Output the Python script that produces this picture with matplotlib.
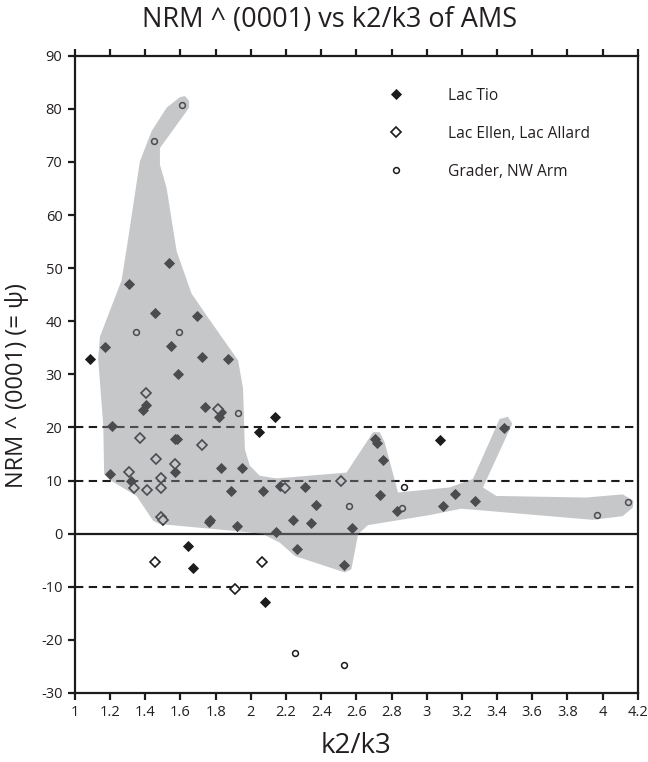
import numpy as np
import matplotlib
matplotlib.use("Agg")
import matplotlib.pyplot as plt
from matplotlib.patches import Polygon

plt.rcParams['font.family'] = ['Open Sans', 'DejaVu Sans']
plt.rcParams['axes.unicode_minus'] = False

# Lac Tio samples (filled diamonds)
tio_x = [1.085, 2.047, 2.14, 3.078, 1.644, 1.67, 2.08,
         1.536, 1.309, 1.455, 1.693, 1.169, 1.545, 1.72, 1.873, 1.585,
         1.403, 1.386, 1.737, 1.831, 1.82, 1.208, 1.568, 1.58, 1.2, 1.318,
         1.57, 1.83, 1.947, 1.89, 1.767, 1.76, 1.922, 2.07, 2.165, 2.307,
         2.373, 2.24, 2.34, 2.576, 2.146, 2.265, 2.532, 2.708, 2.716, 2.75,
         2.733, 2.834, 3.4375, 3.161, 3.093, 3.273]
tio_y = [32.9, 19.2, 22.0, 17.6, -2.3, -6.4, -12.85,
         51.0, 47.1, 41.5, 40.9, 35.1, 35.4, 33.2, 32.9, 30.1,
         24.3, 23.3, 23.9, 23.0, 21.9, 20.3, 17.8, 17.8, 11.2, 9.9,
         11.6, 12.3, 12.3, 8.1, 2.6, 2.2, 1.4, 8.05, 8.9, 8.7,
         5.35, 2.6, 2.0, 1.06, 0.25, -2.8, -5.9, 17.8, 17.0, 13.9,
         7.2, 4.3, 19.8, 7.5, 5.3, 6.1]

# Lac Ellen / Lac Allard samples (open diamonds)
ellen_x = [1.403, 1.8125, 1.367, 1.72, 1.46, 1.57, 1.307, 1.333, 1.411,
           1.49, 1.49, 1.49, 1.50, 2.197, 2.515, 1.453, 2.064, 1.911]
ellen_y = [26.5, 23.5, 18.1, 16.6, 14.0, 13.1, 11.6, 8.6, 8.3,
           10.4, 8.6, 3.2, 2.5, 8.6, 10.0, -5.3, -5.3, -10.5]

# Grader / NW Arm samples (open circles)
grader_x = [1.608, 1.45, 1.348, 1.59, 1.926, 2.56, 2.871, 2.858, 3.97,
            4.146, 2.254, 2.53]
grader_y = [80.8, 74.0, 38.05, 38.05, 22.7, 5.2, 8.8, 4.8, 3.46,
            5.9, -22.4, -24.7]

# Outline of the shaded data field
field_x = [1.199, 1.166, 1.161, 1.132, 1.142, 1.265, 1.294, 1.369, 1.436,
           1.521, 1.597, 1.625, 1.649, 1.649, 1.483, 1.483, 1.521, 1.578,
           1.663, 1.748, 1.928, 1.956, 1.966, 1.994, 2.051, 2.146, 2.544,
           2.695, 2.733, 2.761, 2.837, 3.131, 3.263, 3.415, 3.462, 3.487,
           3.32, 3.396, 3.907, 4.115, 4.176, 4.172, 4.115, 3.945, 3.197,
           3.017, 2.666, 2.61, 2.572, 2.534, 2.25, 2.165, 2.07, 1.976,
           1.483, 1.445, 1.35]
field_y = [10.1, 11.2, 20.3, 32.9, 37.1, 47.7, 53.7, 70.1, 75.8,
           80.2, 82.2, 82.4, 81.5, 80.2, 72.6, 69.5, 65.1, 53.2,
           45.2, 41.1, 32.6, 27.3, 15.9, 12.8, 10.9, 10.4, 11.5,
           19.1, 19.1, 17.2, 7.75, 8.7, 10.3, 21.6, 22.0, 20.7,
           8.7, 7.1, 6.8, 7.4, 6.2, 4.9, 3.3, 2.6, 4.7,
           3.5, 1.6, -0.1, -6.7, -7.3, -4.2, -1.7, -0.1, 0.3,
           1.8, 2.4, 7.1]

ref_dashed = [20, 10, -10]
ref_solid = [0]

xticks = np.round(np.arange(1.0, 4.21, 0.2), 1)
xtick_labels = ['1', '1.2', '1.4', '1.6', '1.8', '2', '2.2', '2.4', '2.6',
                '2.8', '3', '3.2', '3.4', '3.6', '3.8', '4', '4.2']
yticks = list(range(-30, 91, 10))

fig = plt.figure(figsize=(6.48, 7.62), dpi=100)
ax = fig.add_axes([0.1157, 0.0906, 0.8684, 0.8363])
ax.set_xlim(1.0, 4.2)
ax.set_ylim(-30, 90)

ink = '#1c1c1c'
text_c = '#231f20'
for yv in ref_dashed:
    ax.axhline(yv, color=ink, lw=1.5, ls=(0, (4, 2.6)), zorder=2)
for yv in ref_solid:
    ax.axhline(yv, color=ink, lw=1.6, zorder=2)

ms_d = 5.3
ax.plot(tio_x, tio_y, 'D', ms=ms_d, mfc=ink, mec=ink, mew=0.6,
        ls='none', zorder=3, label='Lac Tio')
ax.plot(ellen_x, ellen_y, 'D', ms=ms_d - 0.6, mfc='white', mec=ink, mew=1.2,
        ls='none', zorder=3, label='Lac Ellen, Lac Allard')
ax.plot(grader_x, grader_y, 'o', ms=4.2, mfc='white', mec=ink, mew=1.1,
        ls='none', zorder=3, label='Grader, NW Arm')

# translucent field laid over the data
ax.add_patch(Polygon(np.column_stack([field_x, field_y]), closed=True,
                     facecolor=(0.517, 0.527, 0.548), alpha=0.463,
                     edgecolor='none', zorder=4))

for s in ['left', 'bottom', 'top', 'right']:
    ax.spines[s].set_linewidth(1.6)
    ax.spines[s].set_color(ink)
    ax.spines[s].set_zorder(5)

ax.set_xticks(xticks)
ax.set_xticklabels(xtick_labels)
ax.set_yticks(yticks)
ax.tick_params(axis='both', direction='out', length=5, width=1.6,
               color=ink, labelsize=10.5, labelcolor=text_c, pad=4)
ax.tick_params(axis='x', top=True, labeltop=False)
ax.tick_params(axis='y', right=False)

fig.suptitle('NRM ^ (0001) vs k2/k3 of AMS', fontsize=19.5, color=text_c,
             x=0.509, y=0.974, va='center')
ax.set_xlabel('k2/k3', fontsize=20, color=text_c, labelpad=8)
ax.set_ylabel('NRM ^ (0001) (= \u03c8)', fontsize=17, color=text_c)
ax.yaxis.set_label_coords(-0.081, 0.483)

leg = ax.legend(loc='upper left', bbox_to_anchor=(0.532, 0.972),
                frameon=False, fontsize=11.2, handlelength=1.0,
                handletextpad=2.85, labelspacing=1.42, numpoints=1)
for t in leg.get_texts():
    t.set_color(text_c)

fig.savefig('out.png', dpi=100)
